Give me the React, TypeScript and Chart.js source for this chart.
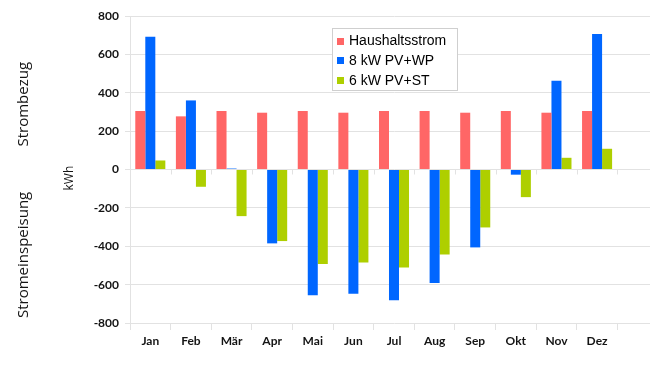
import React, { useEffect, useRef } from 'react';
import { Chart, registerables } from 'chart.js';

Chart.register(...registerables);

// Categories (13th slot is an empty category as in the reference)
const months = ['Jan', 'Feb', 'Mär', 'Apr', 'Mai', 'Jun', 'Jul', 'Aug', 'Sep', 'Okt', 'Nov', 'Dez', ''];
const seriesLabels = ['Haushaltsstrom', '8 kW PV+WP', '6 kW PV+ST'];
const haushaltsstrom = [305, 277, 305, 296, 305, 296, 305, 305, 296, 305, 296, 305, null];
const pvWp = [692, 360, 5, -385, -655, -647, -681, -591, -406, -27, 462, 706, null];
const pvSt = [47, -90, -243, -373, -492, -485, -511, -443, -302, -144, 61, 108, null];
const yMin = -800;
const yMax = 800;
const yStep = 200;
const sideTop = 'Strombezug';
const sideBottom = 'Stromeinspeisung';
const unitLabel = 'kWh';

const colors = ['#ff6666', '#0066ff', '#aecf00'];
const gridColor = '#e2e2e2';
const textColor = '#141414';

const sideLabelsPlugin = {
  id: 'sideLabels',
  afterDraw(chart: any) {
    const ctx = chart.ctx;
    const y = chart.scales.y;
    const drawRot = (text: string, x: number, yy: number, font: string) => {
      ctx.save();
      ctx.translate(x, yy);
      ctx.rotate(-Math.PI / 2);
      ctx.font = font;
      ctx.fillStyle = textColor;
      ctx.textAlign = 'center';
      ctx.textBaseline = 'middle';
      ctx.fillText(text, 0, 0);
      ctx.restore();
    };
    drawRot(sideTop, 24, y.getPixelForValue(340), '15px "Open Sans"');
    drawRot(sideBottom, 24, y.getPixelForValue(-445), '15px "Open Sans"');
    drawRot(unitLabel, 70, y.getPixelForValue(-45), '12px "Open Sans"');
  },
};

const zeroTicksPlugin = {
  id: 'zeroTicks',
  afterDatasetsDraw(chart: any) {
    const ctx = chart.ctx;
    const x = chart.scales.x;
    const y = chart.scales.y;
    const y0 = y.getPixelForValue(0);
    const n = chart.data.labels.length;
    const w = x.width / n;
    ctx.save();
    ctx.strokeStyle = gridColor;
    ctx.lineWidth = 1;
    for (let i = 1; i < n; i++) {
      const px = Math.round(x.left + i * w) + 0.5;
      ctx.beginPath();
      ctx.moveTo(px, y0);
      ctx.lineTo(px, y0 + 5);
      ctx.stroke();
    }
    ctx.restore();
  },
};

const legendPlugin = {
  id: 'boxLegend',
  afterDraw(chart: any) {
    const ctx = chart.ctx;
    const bx = 332.5, by = 28.5, bw = 125, bh = 62;
    ctx.save();
    ctx.fillStyle = '#ffffff';
    ctx.fillRect(bx, by, bw, bh);
    ctx.strokeStyle = '#cfcfcf';
    ctx.lineWidth = 1;
    ctx.strokeRect(bx, by, bw, bh);
    ctx.font = '14px "Liberation Sans"';
    ctx.textBaseline = 'middle';
    ctx.textAlign = 'left';
    chart.data.datasets.forEach((ds: any, i: number) => {
      const cy = 41 + i * 19.7;
      ctx.fillStyle = ds.backgroundColor;
      ctx.fillRect(337, Math.round(cy - 3.5), 7, 7);
      ctx.fillStyle = '#000';
      ctx.fillText(ds.label, 349, cy + 0.5);
    });
    ctx.restore();
  },
};

export default function App() {
  const ref = useRef<HTMLCanvasElement | null>(null);

  useEffect(() => {
    if (!ref.current) return;
    const chart = new Chart(ref.current, {
      type: 'bar',
      data: {
        labels: months,
        datasets: [
          { label: seriesLabels[0], data: haushaltsstrom, backgroundColor: colors[0] },
          { label: seriesLabels[1], data: pvWp, backgroundColor: colors[1] },
          { label: seriesLabels[2], data: pvSt, backgroundColor: colors[2] },
        ],
      },
      options: {
        responsive: false,
        animation: false,
        devicePixelRatio: 1,
        layout: { padding: { left: 0, top: 16, right: 2, bottom: 0 } },
        datasets: {
          bar: { categoryPercentage: 0.74, barPercentage: 1.0 },
        },
        plugins: {
          legend: { display: false },
          tooltip: { enabled: false },
        },
        scales: {
          x: {
            afterFit: (s: any) => { s.height = 45; },
            grid: {
              offset: true,
              drawOnChartArea: false,
              drawTicks: true,
              tickLength: 7,
              color: gridColor,
            },
            border: { display: false },
            ticks: {
              color: textColor,
              font: { family: 'Lato', size: 12, weight: 'bold' },
              padding: 4,
              maxRotation: 0,
              autoSkip: false,
            },
          },
          y: {
            min: yMin,
            max: yMax,
            afterFit: (s: any) => { s.width = 130; },
            grid: { color: gridColor, tickLength: 5 },
            border: { color: gridColor },
            ticks: {
              stepSize: yStep,
              color: textColor,
              font: { family: 'Lato', size: 12, weight: 'bold' },
              padding: 6,
            },
          },
        },
      },
      plugins: [zeroTicksPlugin, sideLabelsPlugin, legendPlugin],
    } as any);
    return () => chart.destroy();
  }, []);

  return (
    <div style={{ position: 'fixed', left: 0, top: 0, width: 650, height: 368, overflow: 'hidden', background: '#fff' }}>
      <canvas ref={ref} width={660} height={368} style={{ display: 'block' }} />
    </div>
  );
}
